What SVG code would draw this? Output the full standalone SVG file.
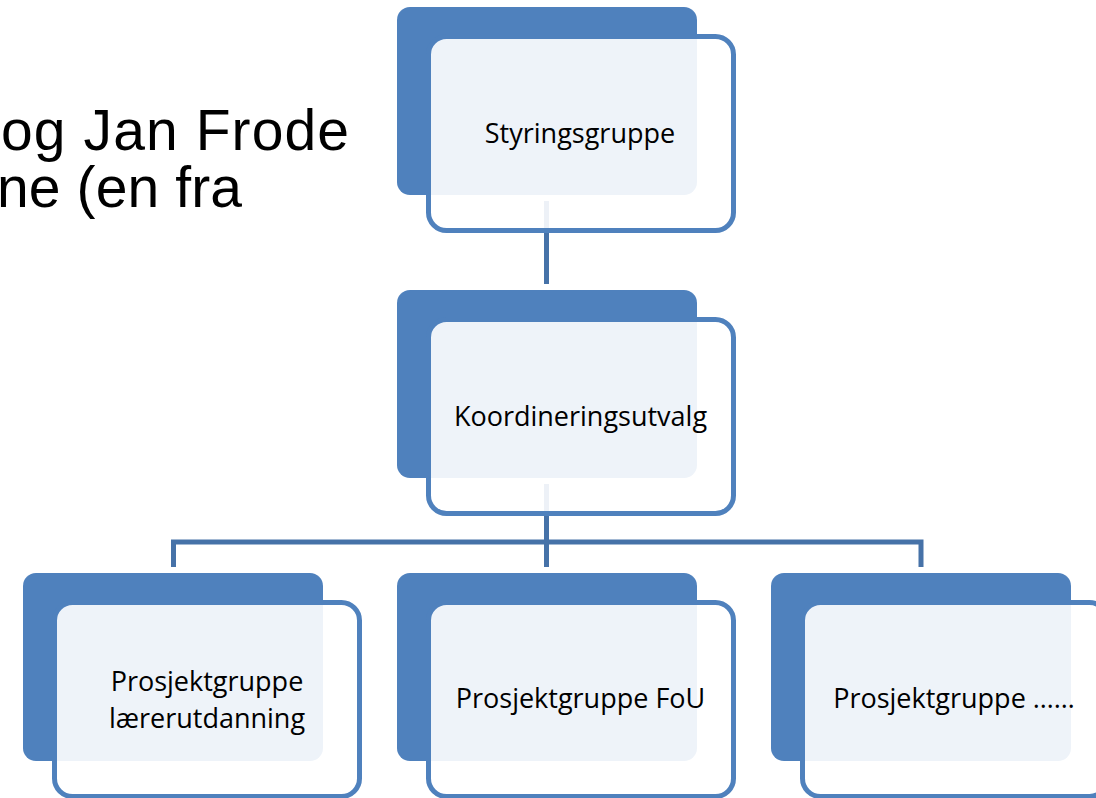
<svg xmlns="http://www.w3.org/2000/svg" width="1096" height="798" viewBox="0 0 1096 798">
<style>
.back{fill:#4F81BD}
.front{fill:#FFFFFF;fill-opacity:0.9;stroke:#4F81BD;stroke-width:5}
.lbl{font-family:"Open Sans","Noto Sans",sans-serif;font-size:27px;fill:#000;text-anchor:middle}
.big{font-family:"Liberation Sans",Arial,sans-serif;font-size:57px;fill:#000}
.conn{fill:none;stroke:#4672A8;stroke-width:5}
</style>
<rect width="1096" height="798" fill="#FFFFFF"/>
<g id="title">
<text class="big" x="1" y="150" textLength="348" lengthAdjust="spacing">og Jan Frode</text>
<text class="big" x="-3" y="207" textLength="245" lengthAdjust="spacing">ne (en fra</text>
</g>
<g id="connectors">
<path class="conn" d="M546.5 201 V284"/>
<path class="conn" d="M546.5 484 V567"/>
<path class="conn" d="M173.5 567 V542 H921 V567"/>
</g>
<g id="styringsgruppe">
<rect class="back" x="397" y="7" width="300" height="188" rx="13"/>
<rect class="front" x="428.5" y="36.5" width="305" height="194" rx="18"/>
<text class="lbl" x="580" y="143">Styringsgruppe</text>
</g>
<g id="koordineringsutvalg">
<rect class="back" x="397" y="290" width="300" height="188" rx="13"/>
<rect class="front" x="428.5" y="319.5" width="305" height="194" rx="18"/>
<text class="lbl" x="580.5" y="426">Koordineringsutvalg</text>
</g>
<g id="pg-laererutdanning">
<rect class="back" x="23" y="573" width="300" height="188" rx="13"/>
<rect class="front" x="54.5" y="602.5" width="305" height="194" rx="18"/>
<text class="lbl" x="207" y="691">Prosjektgruppe</text>
<text class="lbl" x="207" y="728">lærerutdanning</text>
</g>
<g id="pg-fou">
<rect class="back" x="397" y="573" width="300" height="188" rx="13"/>
<rect class="front" x="428.5" y="602.5" width="305" height="194" rx="18"/>
<text class="lbl" x="580.5" y="708">Prosjektgruppe FoU</text>
</g>
<g id="pg-other">
<rect class="back" x="771" y="573" width="300" height="188" rx="13"/>
<rect class="front" x="802.5" y="602.5" width="305" height="194" rx="18"/>
<text class="lbl" x="954" y="708">Prosjektgruppe ……</text>
</g>
</svg>
